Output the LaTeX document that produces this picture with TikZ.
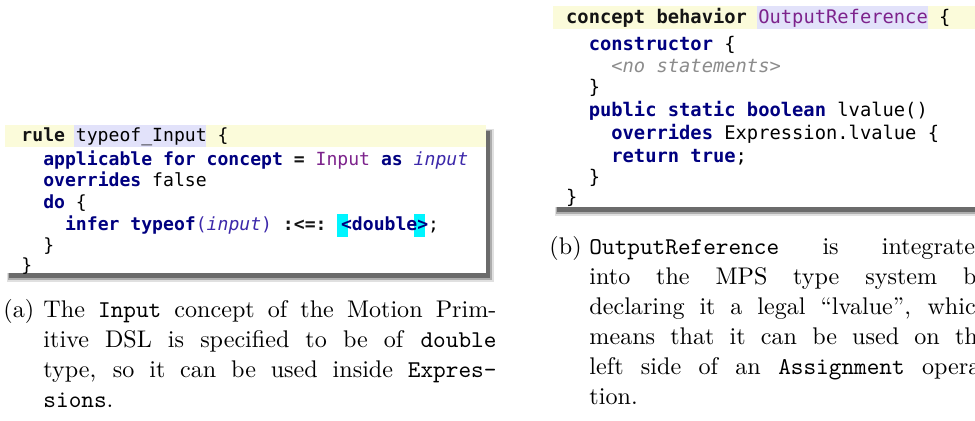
\documentclass[tikz,border=0pt]{standalone}
\usepackage{fontspec}
\newfontfamily\codefont{DejaVu Sans Mono}
\newdimen\pxu \pxu=0.415pt
\definecolor{kw}{RGB}{0,0,128}
\definecolor{kwb}{RGB}{20,20,20}
\definecolor{cpt}{RGB}{125,35,140}
\definecolor{var}{RGB}{60,40,170}
\definecolor{cmt}{RGB}{140,140,140}
\definecolor{hly}{RGB}{251,251,218}
\definecolor{hlv}{RGB}{226,226,250}
\definecolor{hlc}{RGB}{0,245,255}
\newcommand\kwN[1]{{\bfseries\color{kw}#1}}
\newcommand\kwB[1]{{\bfseries\color{kwb}#1}}
\newcommand\cptN[1]{{\color{cpt}#1}}
\newcommand\varN[1]{{\itshape\color{var}#1}}
\newcommand\cmtN[1]{{\itshape\color{cmt}#1}}
\tikzset{
  codea/.style={anchor=base west, inner sep=0pt, font=\codefont\fontsize{7.51pt}{9pt}\selectfont},
  codeb/.style={anchor=base west, inner sep=0pt, font=\codefont\fontsize{7.79pt}{9pt}\selectfont},
  capt/.style={anchor=base west, inner sep=0pt, font=\fontsize{10pt}{12pt}\selectfont},
  shadowA/.style={fill=black!12},
  shadowB/.style={fill=black!32},
  shadowC/.style={fill=black!58},
}
\begin{document}
\begin{tikzpicture}[x=0.415pt,y=-0.415pt]
\useasboundingbox (0,0) rectangle (975,421);
\clip (0,0) rectangle (975,421);
% ---------- panel (a) ----------
\fill[shadowA] (7,129) rectangle (494,282);
\fill[shadowB] (8,130) rectangle (492,280);
\fill[shadowC] (9,131) rectangle (490,278);
\fill[white] (5,125) rectangle (486,273);
\fill[hly] (5,125) rectangle (486,147);
\fill[hlv] (74,125) rectangle (206,147);
\fill[hlc] (337,214) rectangle (348,236.5);
\fill[hlc] (413.5,214) rectangle (424.5,236.5);
\node[codea] (a1) at (21,141.7) {\kwB{rule} typeof\_Input \{};
\node[codea] (a2) at (42.8,165) {\kwN{applicable for concept} \kwB{=} \cptN{Input} \kwN{as} \varN{input}};
\node[codea] (a3) at (42.8,186.7) {\kwN{overrides} false};
\node[codea] (a4) at (42.8,208) {\kwN{do} \{};
\node[codea] (a5) at (64.6,230) {\kwN{infer typeof}{\color{var}(}\varN{input}{\color{var})} \kwB{:<=:} \kwN{<double>};};
\node[codea] (a6) at (42.8,251.7) {\}};
\node[codea] (a7) at (21,271.7) {\}};
% caption (a)
\node[capt] (la) at (3,317) {(a)};
\node[capt] (ca1) at (43,317) {\makebox[453\pxu][s]{The \texttt{Input} concept of the Motion Prim-}};
\node[capt] (ca2) at (43,347) {\makebox[453\pxu][s]{itive DSL is specified to be of \texttt{double}}};
\node[capt] (ca3) at (43,377) {\makebox[453\pxu][s]{type, so it can be used inside \texttt{Expres-}}};
\node[capt] (ca4) at (43,407) {\texttt{sions}.};
% ---------- panel (b) ----------
\fill[shadowA] (555,8) rectangle (995,216);
\fill[shadowB] (556,9) rectangle (995,214);
\fill[shadowC] (557,10) rectangle (995,212);
\fill[white] (553,4) rectangle (995,207);
\fill[hly] (553,6) rectangle (995,29);
\fill[hlv] (757,6) rectangle (928,29);
\node[codeb] (b1) at (565.7,23) {\kwB{concept behavior} \cptN{OutputReference} \{};
\node[codeb] (b2) at (588.3,50) {\kwN{constructor} \{};
\node[codeb] (b3) at (610.9,72.7) {\cmtN{<no statements>}};
\node[codeb] (b4) at (588.3,93) {\}};
\node[codeb] (b5) at (588.3,116.7) {\kwN{public static boolean} lvalue()};
\node[codeb] (b6) at (610.9,139.3) {\kwN{overrides} Expression.lvalue \{};
\node[codeb] (b7) at (610.9,162.7) {\kwN{return true};};
\node[codeb] (b8) at (588.3,183) {\}};
\node[codeb] (b9) at (565.7,203) {\}};
% caption (b)
\node[capt] (lb) at (549,254) {(b)};
\node[capt] (cb1) at (589,254) {\makebox[399\pxu][s]{\texttt{OutputReference} is integrated}};
\node[capt] (cb2) at (589,284) {\makebox[399\pxu][s]{into the MPS type system by}};
\node[capt] (cb3) at (589,314) {\makebox[399\pxu][s]{declaring it a legal “lvalue”, which}};
\node[capt] (cb4) at (589,344) {\makebox[399\pxu][s]{means that it can be used on the}};
\node[capt] (cb5) at (589,374) {\makebox[399\pxu][s]{left side of an \texttt{Assignment} opera-}};
\node[capt] (cb6) at (589,404) {tion.};
\end{tikzpicture}
\end{document}
